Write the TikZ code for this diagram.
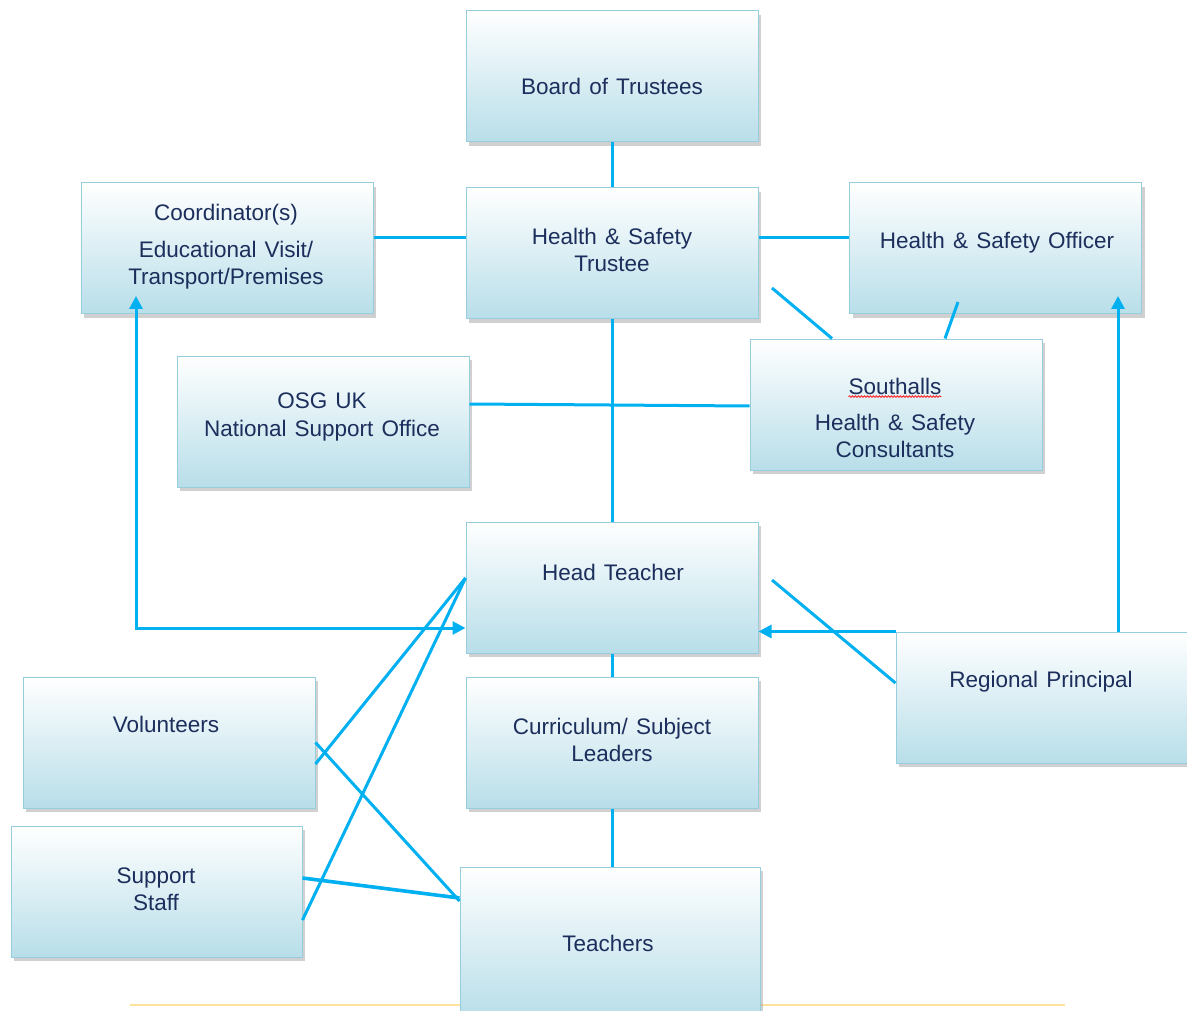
\documentclass[tikz,border=0pt]{standalone}
\usepackage{fontspec}
\setmainfont[WordSpace=1.3]{Liberation Sans}
\usetikzlibrary{arrows.meta,shadows,decorations.pathmorphing}
\definecolor{navy}{RGB}{28,46,92}
\definecolor{linkblue}{RGB}{0,176,240}
\definecolor{boxline}{RGB}{150,206,222}
\definecolor{boxfill}{RGB}{184,222,233}
\definecolor{footrule}{RGB}{255,226,155}
\tikzset{
  orgbox/.style={draw=boxline, line width=1pt, top color=white, bottom color=boxfill,
    minimum width=292pt, minimum height=131pt, inner sep=0pt,
    drop shadow={shadow xshift=3pt, shadow yshift=-4pt, opacity=0.3, fill=black!60}},
  txt/.style={text=navy, align=center, font=\fontsize{22.5}{27.5}\selectfont, inner sep=0pt},
  conn/.style={draw=linkblue, line width=3pt},
  arrowconn/.style={conn, -{Triangle[width=13pt,length=13pt]}},
}

\begin{document}
\begin{tikzpicture}[x=1pt,y=-1pt]
  \fill[white] (0,0) rectangle (1187,1011);
  \useasboundingbox (0,0) rectangle (1187,1011);

  \coordinate (ruleL) at (130,1005);
  \coordinate (ruleR) at (1065,1005);
  \draw[footrule, line width=1.8pt] (ruleL) -- (ruleR);

  \node[orgbox] (board) at (612,76.5) {};
  \node[orgbox] (trustee) at (612,253.5) {};
  \node[orgbox] (coord) at (227,248.5) {};
  \node[orgbox] (officer) at (995.5,248.5) {};
  \node[orgbox] (osg) at (323,421.5) {};
  \node[orgbox] (southalls) at (896,404.5) {};
  \node[orgbox] (head) at (612,587.5) {};
  \node[orgbox, minimum width=291pt] (regional) at (1041.5,697.5) {};
  \node[orgbox] (curriculum) at (612,742.5) {};
  \node[orgbox] (volunteers) at (169,742.5) {};
  \node[orgbox, minimum width=291pt] (support) at (156.5,891.5) {};
  \node[orgbox, minimum width=300pt, minimum height=150pt] (teachers) at (610,942) {};

  \node[txt] (board-t) at (612,86) {Board of Trustees};
  \node[txt] (trustee-t) at (612,250) {Health \& Safety\\Trustee};
  \node[txt] (coord-t) at (226,247) {Coordinator(s)\\[9pt]Educational Visit/\\Transport/Premises};
  \node[txt] (officer-t) at (997,243) {Health \& Safety Officer};
  \node[txt] (osg-t) at (322,417) {OSG UK\\National Support Office};
  \node[txt] (sth) at (895,386) {Southalls};
  \node[txt] (stc) at (895,436) {Health \& Safety\\Consultants};
  \node[txt] (head-t) at (613,572) {Head Teacher};
  \node[txt] (regional-t) at (1041,682) {Regional Principal};
  \node[txt] (curriculum-t) at (612,740) {Curriculum/ Subject\\Leaders};
  \node[txt] (volunteers-t) at (166,724) {Volunteers};
  \node[txt] (support-t) at (156,889) {Support\\Staff};
  \node[txt] (teachers-t) at (608,943) {Teachers};
  \draw[red, line width=0.7pt, decorate, decoration={snake, amplitude=0.8pt, segment length=3pt}]
    ([yshift=-2.5pt]sth.base west) -- ([yshift=-2.5pt]sth.base east);

  \coordinate (trusteeOut) at (772,288);
  \coordinate (officerOut) at (958,302);
  \coordinate (coordIn) at (136,296);
  \coordinate (officerIn) at (1118,296);
  \coordinate (headOut) at (772,580);

  \draw[conn] (board.south) -- (trustee.north);
  \draw[conn] (coord.east |- 0,238) -- (trustee.west |- 0,238);
  \draw[conn] (trustee.east |- 0,238) -- (officer.west |- 0,238);
  \draw[conn] (trusteeOut) -- (southalls.north -| 832,0);
  \draw[conn] (officerOut) -- (southalls.north -| 945,0);
  \draw[conn] (osg.east |- 0,404) -- (southalls.west |- 0,406);
  \draw[conn] (trustee.south) -- (head.north);
  \draw[conn] (head.south) -- (curriculum.north);
  \draw[conn] (curriculum.south) -- (teachers.north -| curriculum.south);
  \draw[arrowconn, {Triangle[width=13pt,length=13pt]}-{Triangle[width=13pt,length=13pt]}]
    (coordIn) |- (head.west |- 0,628);
  \draw[arrowconn] (regional.north west) -- (head.east |- regional.north west);
  \draw[arrowconn] (regional.north -| officerIn) -- (officerIn);
  \draw[conn] (headOut) -- (regional.west |- 0,683);
  \draw[conn] (volunteers.east |- 0,764) -- (head.west |- 0,578);
  \draw[conn] (support.east |- 0,920) -- (head.west |- 0,578);
  \draw[conn] (volunteers.east) -- (teachers.west |- 0,901);
  \draw[conn, line width=3.6pt] (support.east |- 0,878) -- (teachers.west |- 0,898);
\end{tikzpicture}
\end{document}
